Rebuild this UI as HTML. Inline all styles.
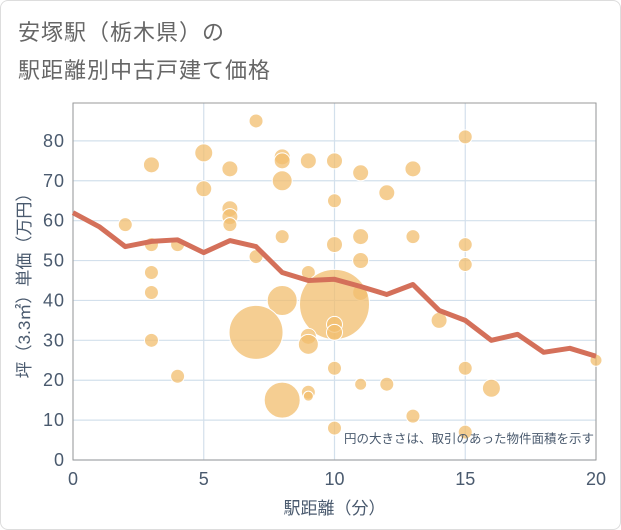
<!DOCTYPE html>
<html><head><meta charset="utf-8"><style>
body{margin:0;background:#fff;}
#card{position:absolute;left:0;top:0;width:619px;height:528px;border:1px solid #ddd;border-radius:8px;background:#fff;}
.t{position:absolute;left:18px;font-family:"Liberation Sans","Noto Sans CJK JP",sans-serif;font-size:22px;color:#666;letter-spacing:1px;}
svg text{font-family:"Liberation Sans","Noto Sans CJK JP",sans-serif;fill:#4a5a6e;}
</style></head><body>
<div id="card"></div>
<div class="t" style="top:15px">安塚駅（栃木県）の</div>
<div class="t" style="top:53px">駅距離別中古戸建て価格</div>
<svg id="chart" width="621" height="530" style="position:absolute;left:0;top:0"></svg>
<script>
const xTicks=[0,5,10,15,20];
const yTicks=[0,10,20,30,40,50,60,70,80];
const lineX=[0,1,2,3,4,5,6,7,8,9,10,11,12,13,14,15,16,17,18,19,20];
const lineY=[62,58.5,53.5,54.8,55.2,52,55,53.5,47,45,45.3,43.5,41.5,44,37.5,35,30,31.5,27,28,26];
const bubX=[7,3,5,6,5,8,8,9,10,8,6,6,6,2,3,4,10,11,12,13,8,7,3,3,9,10,11,13,15,15,11,11,10,8,7,10,10,9,9,14,3,4,10,9,9,11,12,8,16,15,13,10,15,20,15];
const bubY=[85,74,77,73,68,76,75,75,75,70,63,61,59,59,54,54,65,72,67,73,56,51,47,42,47,54,56,56,54,49,50,42,39,40,32,34,32,31,29,35,30,21,23,17,16,19,19,15,18,23,11,8,7,25,81];
const bubR=[7,8,9,8,8,8,8,8,8,10,8,8,7,7,7,7,7,8,8,8,7,7,7,7,7,8,8,7,7,7,8,8,35,15,27,8,8,8,10,8,7,7,7,7,5,6,7,18,9,7,7,7,7,6,7];
const NS='http://www.w3.org/2000/svg';
const svg=document.getElementById('chart');
const L=73,R=596,T=103,B=460;
const sx=v=>L+(v-0)/20*(R-L);
const sy=v=>B-v/89.5*(B-T);
function mk(tag,attrs){const e=document.createElementNS(NS,tag);for(const k in attrs)e.setAttribute(k,attrs[k]);svg.appendChild(e);return e;}
yTicks.forEach(v=>{
 const g=mk('line',{x1:L,x2:R,y1:sy(v),y2:sy(v),stroke:'#d3e0ec','stroke-width':1.2});
 
 
 const t=mk('text',{x:L-8,y:sy(v)+6,'text-anchor':'end','font-size':18,'letter-spacing':1});
 t.textContent=v;
 
 
});
xTicks.forEach(v=>{
 const g=mk('line',{x1:sx(v),x2:sx(v),y1:T,y2:B,stroke:'#d3e0ec','stroke-width':1.2});
 
 
 const t=mk('text',{x:sx(v),y:B+25,'text-anchor':'middle','font-size':18});
 t.textContent=v;
 
 
});
const fr=mk('rect',{x:L,y:T,width:R-L,height:B-T,fill:'none',stroke:'#999','stroke-width':1});


bubX.forEach((x,i)=>{
 const c=mk('circle',{cx:sx(x),cy:sy(bubY[i]),r:bubR[i],fill:'#f2bd6e','fill-opacity':0.75,stroke:'#fff','stroke-width':1});
 
 
});
const pl=mk('polyline',{points:lineX.map((x,i)=>sx(x)+','+sy(lineY[i])).join(' '),fill:'none',stroke:'#d4705a','stroke-width':5,'stroke-linejoin':'round'});


const note=mk('text',{x:594,y:443,'text-anchor':'end','font-size':12.5});
note.textContent='円の大きさは、取引のあった物件面積を示す';


const xt=mk('text',{x:(L+R)/2,y:514,'text-anchor':'middle','font-size':17});
xt.textContent='駅距離（分）';


const yt=mk('text',{x:0,y:0,'text-anchor':'middle','font-size':17,transform:'translate(30,'+((T+B)/2)+') rotate(-90)'});
yt.textContent='坪（3.3㎡）単価（万円）';


</script>
</body></html>
